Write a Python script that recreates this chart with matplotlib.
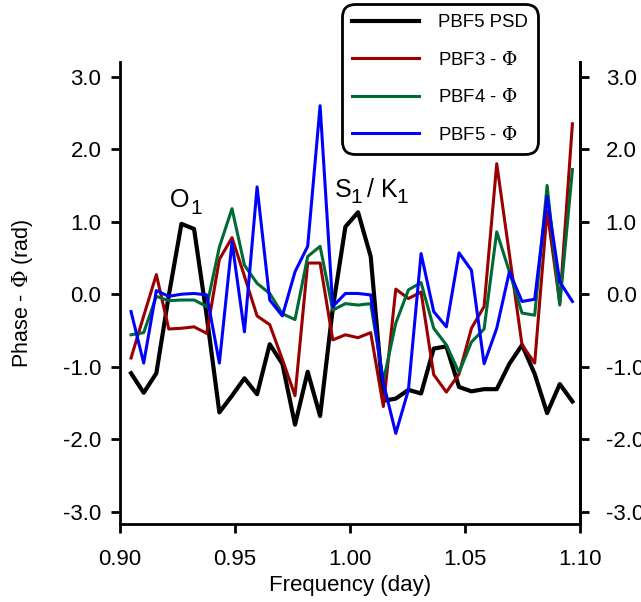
import matplotlib
matplotlib.use("Agg")
import matplotlib.pyplot as plt

plt.rcParams['font.family'] = ['Liberation Sans', 'DejaVu Sans']
plt.rcParams['axes.unicode_minus'] = False
plt.rcParams['mathtext.fontset'] = 'custom'
plt.rcParams['mathtext.sf'] = 'DejaVu Serif'
plt.rcParams['mathtext.rm'] = 'Liberation Sans'

# ---- data ----
freq = [0.9048, 0.9103, 0.9158, 0.9212, 0.9267, 0.9322, 0.9377, 0.9432, 0.9487,
        0.9541, 0.9596, 0.9651, 0.9706, 0.9761, 0.9816, 0.9870, 0.9925, 0.9980,
        1.0035, 1.0090, 1.0145, 1.0199, 1.0254, 1.0309, 1.0364, 1.0419, 1.0474,
        1.0528, 1.0583, 1.0638, 1.0693, 1.0748, 1.0803, 1.0857, 1.0912, 1.0967]

pbf5_psd = [-1.09, -1.36, -1.09, -0.02, 0.97, 0.90, -0.30, -1.63, -1.40, -1.16,
            -1.38, -0.69, -0.96, -1.80, -1.07, -1.68, -0.20, 0.93, 1.13, 0.52,
            -1.47, -1.44, -1.32, -1.37, -0.75, -0.72, -1.28, -1.34, -1.31, -1.31,
            -0.96, -0.70, -1.10, -1.64, -1.24, -1.48]

pbf3_phi = [-0.88, -0.30, 0.27, -0.48, -0.47, -0.45, -0.54, 0.48, 0.78, 0.25,
            -0.30, -0.42, -0.90, -1.40, 0.43, 0.43, -0.63, -0.56, -0.60, -0.53,
            -1.55, 0.07, -0.06, 0.03, -1.11, -1.35, -1.10, -0.47, -0.17, 1.80,
            0.55, -0.70, -0.95, 1.15, -0.12, 2.35]

pbf4_phi = [-0.56, -0.53, -0.03, -0.09, -0.08, -0.08, -0.17, 0.65, 1.18, 0.40,
            0.15, 0.01, -0.27, -0.35, 0.52, 0.66, -0.22, -0.13, -0.15, -0.13,
            -1.20, -0.40, 0.06, 0.16, -0.47, -0.70, -1.08, -0.66, -0.48, 0.86,
            0.31, -0.26, -0.29, 1.50, -0.15, 1.72]

pbf5_phi = [-0.24, -0.95, 0.05, -0.03, 0.00, 0.01, -0.01, -0.95, 0.72, -0.52,
            1.48, -0.08, -0.30, 0.31, 0.66, 2.60, -0.17, 0.01, 0.01, -0.01,
            -1.22, -1.92, -1.32, 0.56, -0.24, -0.45, 0.57, 0.33, -0.96, -0.47,
            0.31, -0.10, -0.07, 1.35, 0.17, -0.10]

series_labels = ['PBF5 PSD', 'PBF3 - $\\mathsf{\\Phi}$', 'PBF4 - $\\mathsf{\\Phi}$',
                 'PBF5 - $\\mathsf{\\Phi}$']
yticks = [-3.0, -2.0, -1.0, 0.0, 1.0, 2.0, 3.0]
xticks = [0.90, 0.95, 1.00, 1.05, 1.10]

# ---- figure ----
W, H = 641, 602
fig = plt.figure(figsize=(W / 100, H / 100), dpi=100)
rect = [120 / W, 77.7 / H, 460 / W, (524.3 - 61.7) / H]
ax = fig.add_axes(rect)

ax.plot(freq, pbf5_psd, color='black', lw=3.0, label=series_labels[0])
ax.plot(freq, pbf3_phi, color='#9a0000', lw=2.2, label=series_labels[1])
ax.plot(freq, pbf4_phi, color='#006a35', lw=2.2, label=series_labels[2])
ax.plot(freq, pbf5_phi, color='#0000ff', lw=2.2, label=series_labels[3])

ylim = (-3.174, 3.207)
ax.set_xlim(0.90, 1.10)
ax.set_ylim(*ylim)
ax.set_xticks(xticks)
ax.set_xticklabels([f"{v:.2f}" for v in xticks])
ax.set_yticks(yticks)
ax.set_yticklabels([f"{v:.1f}" for v in yticks])

for s in ['left', 'right', 'bottom']:
    ax.spines[s].set_linewidth(2.0)
ax.spines['top'].set_visible(False)

ax.tick_params(axis='both', direction='out', length=6.5, width=2.0, labelsize=16)
ax.tick_params(axis='y', left=True, right=False, labelleft=True, labelright=False, pad=7)
ax.tick_params(axis='x', pad=11)

# right-hand axis with its own label padding
ax2 = ax.twinx()
ax2.set_ylim(*ylim)
ax2.set_yticks(yticks)
ax2.set_yticklabels([f"{v:.1f}" for v in yticks])
for s in ['left', 'top', 'bottom']:
    ax2.spines[s].set_visible(False)
ax2.spines['right'].set_linewidth(2.0)
ax2.tick_params(axis='y', direction='out', length=6.5, width=2.0, labelsize=16, pad=12)

ax.set_xlabel('Frequency (day)', fontsize=16, labelpad=4)
ax.set_ylabel('Phase - $\\mathsf{\\Phi}$ (rad)', fontsize=15.5, labelpad=20)

# annotations
big, small = 18, 15
ax.text(0.9217, 1.207, 'O', fontsize=big, ha='left', va='baseline')
ax.text(0.9307, 1.106, '1', fontsize=small, ha='left', va='baseline')
ax.text(0.9935, 1.341, 'S', fontsize=big, ha='left', va='baseline')
ax.text(1.0003, 1.258, '1', fontsize=small, ha='left', va='baseline')
ax.text(1.0075, 1.341, '/', fontsize=big, ha='left', va='baseline')
ax.text(1.0133, 1.341, 'K', fontsize=big, ha='left', va='baseline')
ax.text(1.0200, 1.258, '1', fontsize=small, ha='left', va='baseline')

leg = ax2.legend(*ax.get_legend_handles_labels(),
                 loc='upper left', bbox_to_anchor=(341.7 / W, 1 - 4 / H),
                 bbox_transform=fig.transFigure, borderaxespad=0,
                 fontsize=13.4, handlelength=3.6, handletextpad=1.0,
                 labelspacing=1.05, borderpad=0.55, fancybox=True, framealpha=1)
frame = leg.get_frame()
frame.set_edgecolor('black')
frame.set_linewidth(2.0)
frame.set_boxstyle('round,pad=0,rounding_size=0.7')

fig.savefig('out.png', dpi=100)
